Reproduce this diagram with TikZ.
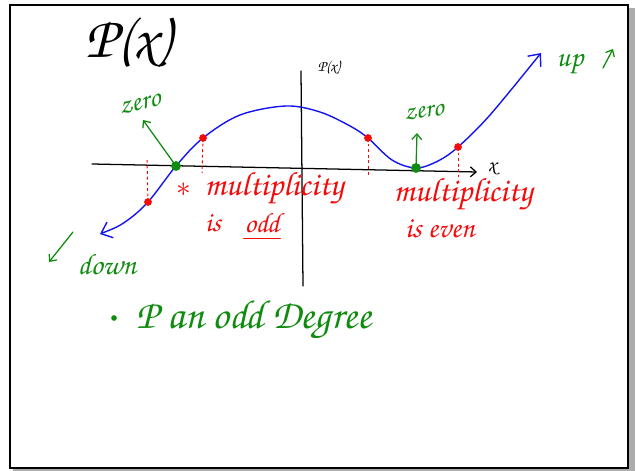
\documentclass[tikz,border=0pt]{standalone}
\usepackage[T1]{fontenc}
\usetikzlibrary{arrows.meta}
\definecolor{penred}{RGB}{245,10,10}
\definecolor{pengreen}{RGB}{15,140,15}
\definecolor{penblue}{RGB}{20,20,240}
\newcommand\handfont{\fontencoding{T1}\fontfamily{pzc}\fontseries{mb}\fontshape{it}\selectfont}

\begin{document}
\begin{tikzpicture}[x=0.025cm,y=-0.025cm,font=\handfont,
  ink/.style={line width=0.9pt,line cap=round},
  barb/.style={-{Straight Barb[length=4pt,width=7pt]}},
  dot/.style={circle,fill=#1,inner sep=0pt,minimum size=6pt},
  guide/.style={penred,line width=0.7pt,dash pattern=on 2pt off 2pt},
  word/.style={inner sep=0.5pt,font=\handfont\fontsize{#1}{#1}\selectfont}]
\useasboundingbox (0,0) rectangle (637,471);
\fill[gray!65] (13,467) rectangle (635,471);
\fill[gray!65] (628,8) rectangle (635,471);
\draw[line width=1.3pt] (10,5) rectangle (628,468);
% axes
\coordinate (xl) at (92,164);
\coordinate (xr) at (477,172);
\coordinate (yt) at (301,71);
\coordinate (yb) at (303,286);
\draw[ink,barb] (xl) -- (xr);
\draw[ink] (yt) -- (yb);
\node[word=15] (xlab) at (492,169) {x};
\node[word=11] (ylab) at (329,68) {P(x)};
\node[word=42] (title) at (128,44) {P(x)};
% points on the curve
\foreach \n/\px/\py in {r1/148/202,g1/176/166,r2/203/138,r3/368/138,g2/416/168,r4/458/147}
  \coordinate (\n) at (\px,\py);
\draw[penblue,line width=1pt,{Straight Barb[length=7pt,width=12pt]}-{Straight Barb[length=7pt,width=12pt]}]
  plot[smooth,tension=0.55] coordinates {(100,234) (125,222) (r1) (g1) (r2) (240,115) (286,106)
    (320,112) (350,126) (r3) (392,160) (g2) (438,161) (r4) (490,115) (541,53)};
% multiplicity guides
\foreach \n/\fx/\fy in {r1/147/160,r2/202/173,r3/368/176,r4/458/177}{
  \coordinate (\n f) at (\fx,\fy);
  \draw[guide] (\n) -- (\n f);
}
\foreach \n in {r1,r2,r3,r4}
  \node[dot=penred,minimum size=5.5pt] at (\n) {};
\foreach \n in {g1,g2}
  \node[dot=pengreen,minimum size=7pt] at (\n) {};
% zeros
\node[word=20,pengreen,rotate=12] (zl) at (140,104) {zero};
\node[word=19,pengreen,rotate=8] (zr) at (424,112) {zero};
\coordinate (zla) at (143,120);
\coordinate (zra) at (417,133);
\draw[ink,pengreen,barb] (g1) -- (zla);
\draw[ink,pengreen,barb] (g2) -- (zra);
% end behaviour
\node[word=21,pengreen] (up) at (570,65) {up};
\coordinate (upa) at (603,68);
\coordinate (upb) at (613,49);
\draw[ink,pengreen,barb] (upa) -- (upb);
\coordinate (dna) at (73,232);
\coordinate (dnb) at (49,262);
\draw[ink,pengreen,barb] (dna) -- (dnb);
\node[word=21,pengreen] (down) at (107,264) {down};
% labels
\node[word=22,penred] (star) at (184,190) {$*$};
\node[word=24,penred] (mo) at (274,189) {multiplicity};
\node[word=20,penred] (iso) at (213,223) {is};
\node[word=20,penred] (odd) at (262,223) {odd};
\draw[ink,penred] ([yshift=-3pt]odd.south west) -- ([yshift=-3pt]odd.south east);
\node[word=24,penred] (me) at (463,195) {multiplicity};
\node[word=21,penred] (even) at (440,229) {is even};
% degree
\node[dot=pengreen,minimum size=4pt] (bul) at (114,318) {};
\node[word=29,pengreen,anchor=west] (deg) at (136,320) {P an odd Degree};
\end{tikzpicture}
\end{document}
